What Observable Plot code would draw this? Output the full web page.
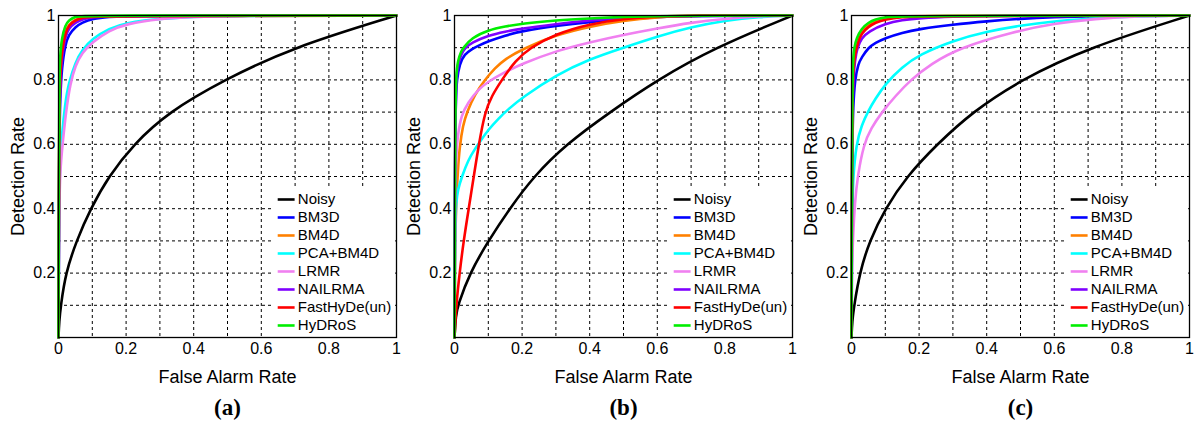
<!DOCTYPE html>
<html>
<head>
<meta charset="utf-8">
<script src="https://cdn.jsdelivr.net/npm/d3@7"></script>
<script src="https://cdn.jsdelivr.net/npm/@observablehq/plot@0.6"></script>
<style>
  html, body { margin: 0; padding: 0; background: #fff; }
  #row { display: flex; width: 1195px; height: 426px; }
  #row svg { overflow: visible; }
</style>
</head>
<body>
<div id="row"></div>
<script>
// ---- series names, colours ----
const names = ["Noisy", "BM3D", "BM4D", "PCA+BM4D", "LRMR", "NAILRMA", "FastHyDe(un)", "HyDRoS"];
const colors = ["#000000", "#0000ff", "#ff8000", "#00ffff", "#f080f0", "#7f00ff", "#ff0000", "#00ee00"];
const captions = ["(a)", "(b)", "(c)"];
const xTicks = [0, 0.2, 0.4, 0.6, 0.8, 1];
const yTicks = [0.2, 0.4, 0.6, 0.8, 1];
const gridVals = [0.1, 0.2, 0.3, 0.4, 0.5, 0.6, 0.7, 0.8, 0.9];

// ---- panel (a): [false alarm rate, detection rate] ----
const a_Noisy = [[0,0],[0.002,0.05],[0.007,0.1],[0.021,0.2],[0.053,0.3],[0.095,0.4],[0.148,0.5],[0.222,0.6],[0.325,0.7],[0.49,0.8],[0.69,0.9],[1,1]];
const a_BM3D = [[0,0],[0.002,0.6],[0.005,0.75],[0.01,0.84],[0.02,0.91],[0.03,0.94],[0.05,0.965],[0.07,0.978],[0.1,0.99],[0.15,0.996],[0.2,0.999],[1,1]];
const a_BM4D = [[0,0],[0.002,0.7],[0.005,0.83],[0.01,0.9],[0.02,0.95],[0.03,0.972],[0.05,0.988],[0.07,0.995],[0.1,0.999],[1,1]];
const a_PCABM4D = [[0,0],[0.002,0.45],[0.005,0.55],[0.01,0.63],[0.02,0.73],[0.03,0.79],[0.05,0.855],[0.07,0.893],[0.1,0.928],[0.15,0.96],[0.2,0.978],[0.3,0.99],[0.4,0.996],[0.5,0.999],[1,1]];
const a_LRMR = [[0,0],[0.002,0.4],[0.005,0.52],[0.012,0.6],[0.022,0.7],[0.035,0.79],[0.05,0.845],[0.07,0.885],[0.1,0.917],[0.15,0.953],[0.2,0.974],[0.3,0.99],[0.4,0.996],[0.5,0.999],[1,1]];
const a_NAILRMA = [[0,0],[0.002,0.65],[0.005,0.8],[0.01,0.87],[0.02,0.935],[0.03,0.96],[0.05,0.978],[0.07,0.988],[0.1,0.995],[0.15,0.999],[1,1]];
const a_FastHyDe = [[0,0],[0.002,0.7],[0.005,0.82],[0.01,0.89],[0.02,0.945],[0.03,0.97],[0.05,0.985],[0.07,0.994],[0.1,0.998],[1,1]];
const a_HyDRoS = [[0,0],[0.002,0.8],[0.005,0.88],[0.01,0.93],[0.02,0.97],[0.03,0.985],[0.05,0.997],[0.07,1],[1,1]];

// ---- panel (b) ----
const b_Noisy = [[0,0],[0.004,0.07],[0.01,0.1],[0.045,0.2],[0.1,0.3],[0.163,0.4],[0.234,0.5],[0.33,0.6],[0.46,0.7],[0.6,0.8],[0.77,0.9],[1,1]];
const b_BM3D = [[0,0],[0.002,0.6],[0.004,0.75],[0.007,0.8],[0.015,0.85],[0.03,0.88],[0.05,0.895],[0.07,0.906],[0.1,0.92],[0.15,0.938],[0.2,0.952],[0.3,0.968],[0.4,0.98],[0.5,0.988],[0.6,0.995],[0.7,0.999],[1,1]];
const b_BM4D = [[0,0],[0.002,0.3],[0.005,0.42],[0.01,0.52],[0.015,0.59],[0.025,0.66],[0.037,0.7],[0.06,0.755],[0.09,0.8],[0.12,0.837],[0.15,0.865],[0.2,0.895],[0.3,0.94],[0.4,0.966],[0.5,0.984],[0.6,0.995],[0.7,1],[1,1]];
const b_PCABM4D = [[0,0],[0.002,0.35],[0.005,0.42],[0.01,0.46],[0.022,0.5],[0.04,0.55],[0.06,0.585],[0.08,0.615],[0.1,0.645],[0.13,0.68],[0.16,0.71],[0.2,0.745],[0.3,0.815],[0.4,0.865],[0.5,0.9],[0.6,0.935],[0.7,0.964],[0.8,0.984],[0.9,0.996],[1,1]];
const b_LRMR = [[0,0],[0.002,0.45],[0.005,0.57],[0.01,0.63],[0.02,0.69],[0.04,0.73],[0.07,0.77],[0.1,0.795],[0.15,0.825],[0.2,0.85],[0.3,0.89],[0.4,0.917],[0.5,0.94],[0.6,0.96],[0.7,0.978],[0.8,0.99],[0.9,0.998],[1,1]];
const b_NAILRMA = [[0,0],[0.002,0.65],[0.005,0.8],[0.01,0.85],[0.02,0.88],[0.032,0.9],[0.05,0.915],[0.1,0.938],[0.15,0.95],[0.2,0.96],[0.3,0.973],[0.4,0.985],[0.5,0.993],[0.6,0.998],[1,1]];
const b_FastHyDe = [[0,0],[0.005,0.1],[0.015,0.2],[0.027,0.3],[0.042,0.4],[0.057,0.5],[0.072,0.6],[0.09,0.7],[0.11,0.75],[0.14,0.8],[0.18,0.86],[0.224,0.9],[0.3,0.943],[0.4,0.974],[0.5,0.99],[0.6,0.997],[0.7,1],[1,1]];
const b_HyDRoS = [[0,0],[0.002,0.7],[0.005,0.82],[0.01,0.86],[0.02,0.89],[0.027,0.9],[0.05,0.93],[0.1,0.955],[0.15,0.966],[0.2,0.975],[0.3,0.985],[0.4,0.991],[0.5,0.996],[0.6,0.999],[1,1]];

// ---- panel (c) ----
const c_Noisy = [[0,0],[0.002,0.05],[0.008,0.1],[0.024,0.2],[0.053,0.3],[0.1,0.4],[0.163,0.5],[0.253,0.6],[0.357,0.7],[0.5,0.8],[0.7,0.9],[1,1]];
const c_BM3D = [[0,0],[0.002,0.6],[0.005,0.72],[0.01,0.8],[0.02,0.85],[0.03,0.87],[0.05,0.9],[0.07,0.915],[0.1,0.93],[0.15,0.947],[0.2,0.958],[0.3,0.972],[0.4,0.982],[0.5,0.99],[0.6,0.995],[0.7,0.998],[1,1]];
const c_BM4D = [[0,0],[0.002,0.72],[0.005,0.83],[0.01,0.885],[0.02,0.93],[0.03,0.952],[0.05,0.972],[0.07,0.983],[0.1,0.992],[0.15,0.997],[0.2,0.999],[1,1]];
const c_PCABM4D = [[0,0],[0.002,0.4],[0.005,0.5],[0.014,0.6],[0.03,0.66],[0.05,0.705],[0.07,0.74],[0.1,0.788],[0.15,0.84],[0.2,0.878],[0.3,0.922],[0.4,0.95],[0.5,0.969],[0.6,0.982],[0.7,0.99],[0.8,0.996],[0.9,0.999],[1,1]];
const c_LRMR = [[0,0],[0.002,0.25],[0.005,0.32],[0.01,0.42],[0.018,0.5],[0.036,0.6],[0.058,0.65],[0.09,0.7],[0.13,0.75],[0.175,0.8],[0.235,0.85],[0.32,0.9],[0.48,0.95],[0.6,0.975],[0.72,0.99],[0.85,0.998],[1,1]];
const c_NAILRMA = [[0,0],[0.002,0.7],[0.005,0.8],[0.01,0.86],[0.017,0.9],[0.03,0.93],[0.05,0.95],[0.1,0.975],[0.15,0.986],[0.2,0.992],[0.3,0.997],[0.4,0.999],[1,1]];
const c_FastHyDe = [[0,0],[0.002,0.72],[0.005,0.83],[0.01,0.88],[0.02,0.92],[0.03,0.945],[0.05,0.965],[0.07,0.978],[0.1,0.988],[0.15,0.995],[0.2,0.998],[1,1]];
const c_HyDRoS = [[0,0],[0.002,0.78],[0.005,0.87],[0.008,0.9],[0.015,0.93],[0.03,0.96],[0.05,0.978],[0.07,0.988],[0.1,0.995],[0.15,0.999],[1,1]];

const panels = [
  [a_Noisy, a_BM3D, a_BM4D, a_PCABM4D, a_LRMR, a_NAILRMA, a_FastHyDe, a_HyDRoS],
  [b_Noisy, b_BM3D, b_BM4D, b_PCABM4D, b_LRMR, b_NAILRMA, b_FastHyDe, b_HyDRoS],
  [c_Noisy, c_BM3D, c_BM4D, c_PCABM4D, c_LRMR, c_NAILRMA, c_FastHyDe, c_HyDRoS]
];

// ---- layout (pixels) ----
const layouts = [
  {width: 397, marginLeft: 58, marginRight: 1},
  {width: 396, marginLeft: 57, marginRight: 1},
  {width: 402, marginLeft: 58, marginRight: 6}
];
const legend = {x1: 0.65, x2: 0.70, xText: 0.708, top: 0.4286, step: 0.0559, boxX1: 0.636, boxY2: 0.47};
const font = "'Liberation Sans', Arial, Helvetica, sans-serif";

function makePanel(series, layout, caption) {
  const data = [];
  series.forEach((pts, i) => pts.forEach(([x, y]) => data.push({name: names[i], x, y})));
  const ly = (d, i) => legend.top - i * legend.step;
  return Plot.plot({
    width: layout.width,
    height: 426,
    marginLeft: layout.marginLeft,
    marginRight: layout.marginRight,
    marginTop: 15,
    marginBottom: 89,
    style: {fontFamily: font, fontSize: "16px", color: "#000", background: "transparent", overflow: "visible"},
    x: {domain: [0, 1]},
    y: {domain: [0, 1]},
    color: {domain: names, range: colors},
    marks: [
      Plot.ruleX(gridVals, {stroke: "#000", strokeWidth: 1, strokeDasharray: "3,3"}),
      Plot.ruleY(gridVals, {stroke: "#000", strokeWidth: 1, strokeDasharray: "3,3"}),
      Plot.rect([0], {x1: legend.boxX1, x2: 1, y1: 0, y2: legend.boxY2, fill: "white", inset: 1}),
      Plot.line(data, {x: "x", y: "y", z: "name", stroke: "name", strokeWidth: 2.6, curve: "basis"}),
      Plot.ruleY(names, {x1: legend.x1, x2: legend.x2, y: ly, stroke: d => d, strokeWidth: 2.6}),
      Plot.text(names, {x: legend.xText, y: ly, text: d => d, textAnchor: "start", fontSize: 15, fill: "#000"}),
      Plot.frame({stroke: "#000", strokeWidth: 1.3}),
      Plot.axisX({ticks: xTicks, tickSize: 0, tickPadding: 5, tickFormat: d => String(d), label: null, fontSize: 16}),
      Plot.axisY({ticks: yTicks, tickSize: 0, tickPadding: 3, tickFormat: d => String(d), label: null, fontSize: 16}),
      Plot.text(["Detection Rate"], {frameAnchor: "left", rotate: -90, dx: -40, textAnchor: "middle", lineAnchor: "middle", fontSize: 18, fill: "#000"}),
      Plot.text(["False Alarm Rate"], {frameAnchor: "bottom", dy: 40, textAnchor: "middle", lineAnchor: "middle", fontSize: 18, fill: "#000"}),
      Plot.text([caption], {frameAnchor: "bottom", dy: 70, textAnchor: "middle", lineAnchor: "middle", fontSize: 23, fontWeight: "bold", fontFamily: "'Liberation Serif', 'Times New Roman', serif", fill: "#000"})
    ]
  });
}

const row = document.getElementById("row");
panels.forEach((s, i) => row.appendChild(makePanel(s, layouts[i], captions[i])));
</script>
</body>
</html>
